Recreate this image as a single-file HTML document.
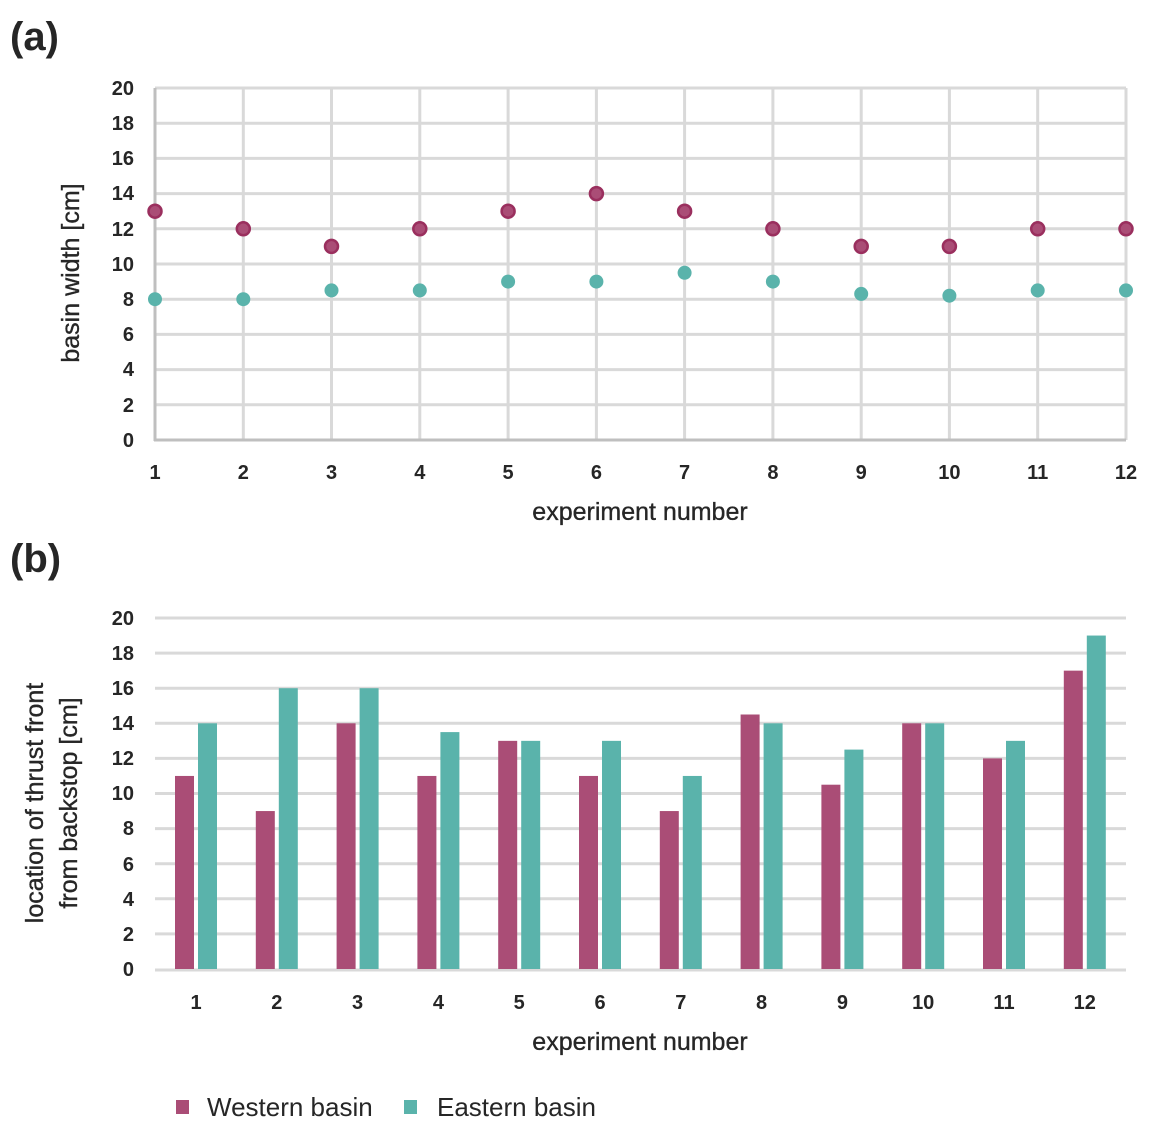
<!DOCTYPE html>
<html><head><meta charset="utf-8"><style>
html,body{margin:0;padding:0;background:#fff;}
svg text{font-family:"Liberation Sans",sans-serif;fill:#262626;}
.t{stroke:#262626;stroke-width:0.35;}
</style></head><body>
<svg width="1152" height="1128" viewBox="0 0 1152 1128" xmlns="http://www.w3.org/2000/svg">
<text x="10" y="50" font-size="40" font-weight="bold">(a)</text>
<text x="10" y="572" font-size="40" font-weight="bold">(b)</text>
<g stroke="#d9d9d9" stroke-width="3">
<line x1="155" y1="88" x2="1126" y2="88"/><line x1="155" y1="123.2" x2="1126" y2="123.2"/><line x1="155" y1="158.4" x2="1126" y2="158.4"/><line x1="155" y1="193.6" x2="1126" y2="193.6"/><line x1="155" y1="228.8" x2="1126" y2="228.8"/><line x1="155" y1="264" x2="1126" y2="264"/><line x1="155" y1="299.2" x2="1126" y2="299.2"/><line x1="155" y1="334.4" x2="1126" y2="334.4"/><line x1="155" y1="369.6" x2="1126" y2="369.6"/><line x1="155" y1="404.8" x2="1126" y2="404.8"/>
<line x1="243.3" y1="88" x2="243.3" y2="440"/><line x1="331.5" y1="88" x2="331.5" y2="440"/><line x1="419.8" y1="88" x2="419.8" y2="440"/><line x1="508.1" y1="88" x2="508.1" y2="440"/><line x1="596.4" y1="88" x2="596.4" y2="440"/><line x1="684.6" y1="88" x2="684.6" y2="440"/><line x1="772.9" y1="88" x2="772.9" y2="440"/><line x1="861.2" y1="88" x2="861.2" y2="440"/><line x1="949.4" y1="88" x2="949.4" y2="440"/><line x1="1037.7" y1="88" x2="1037.7" y2="440"/><line x1="1126" y1="88" x2="1126" y2="440"/>
</g>
<g stroke="#bfbfbf" stroke-width="3"><line x1="155" y1="88" x2="155" y2="441"/><line x1="154" y1="440" x2="1126" y2="440"/></g>
<g font-size="20" font-weight="bold" text-anchor="end">
<text x="134" y="95">20</text><text x="134" y="130">18</text><text x="134" y="165">16</text><text x="134" y="200">14</text><text x="134" y="236">12</text><text x="134" y="271">10</text><text x="134" y="306">8</text><text x="134" y="341">6</text><text x="134" y="376">4</text><text x="134" y="412">2</text><text x="134" y="447">0</text>
</g>
<g font-size="20" font-weight="bold" text-anchor="middle">
<text x="155" y="479">1</text><text x="243.3" y="479">2</text><text x="331.5" y="479">3</text><text x="419.8" y="479">4</text><text x="508.1" y="479">5</text><text x="596.4" y="479">6</text><text x="684.6" y="479">7</text><text x="772.9" y="479">8</text><text x="861.2" y="479">9</text><text x="949.4" y="479">10</text><text x="1037.7" y="479">11</text><text x="1126" y="479">12</text>
</g>
<text class="t" x="640" y="520" font-size="25" text-anchor="middle">experiment number</text>
<text class="t" transform="translate(79,273) rotate(-90)" font-size="25" text-anchor="middle">basin width [cm]</text>
<g fill="#5ab3ab">
<circle cx="155" cy="299.2" r="7"/><circle cx="243.3" cy="299.2" r="7"/><circle cx="331.5" cy="290.4" r="7"/><circle cx="419.8" cy="290.4" r="7"/><circle cx="508.1" cy="281.6" r="7"/><circle cx="596.4" cy="281.6" r="7"/><circle cx="684.6" cy="272.8" r="7"/><circle cx="772.9" cy="281.6" r="7"/><circle cx="861.2" cy="293.9" r="7"/><circle cx="949.4" cy="295.7" r="7"/><circle cx="1037.7" cy="290.4" r="7"/><circle cx="1126" cy="290.4" r="7"/>
</g>
<g fill="#aa4d76" stroke="#9a2f5e" stroke-width="2.5">
<circle cx="155" cy="211.2" r="6.5"/><circle cx="243.3" cy="228.8" r="6.5"/><circle cx="331.5" cy="246.4" r="6.5"/><circle cx="419.8" cy="228.8" r="6.5"/><circle cx="508.1" cy="211.2" r="6.5"/><circle cx="596.4" cy="193.6" r="6.5"/><circle cx="684.6" cy="211.2" r="6.5"/><circle cx="772.9" cy="228.8" r="6.5"/><circle cx="861.2" cy="246.4" r="6.5"/><circle cx="949.4" cy="246.4" r="6.5"/><circle cx="1037.7" cy="228.8" r="6.5"/><circle cx="1126" cy="228.8" r="6.5"/>
</g>
<g stroke="#d9d9d9" stroke-width="3">
<line x1="155" y1="618" x2="1126" y2="618"/><line x1="155" y1="653.1" x2="1126" y2="653.1"/><line x1="155" y1="688.2" x2="1126" y2="688.2"/><line x1="155" y1="723.3" x2="1126" y2="723.3"/><line x1="155" y1="758.4" x2="1126" y2="758.4"/><line x1="155" y1="793.5" x2="1126" y2="793.5"/><line x1="155" y1="828.6" x2="1126" y2="828.6"/><line x1="155" y1="863.7" x2="1126" y2="863.7"/><line x1="155" y1="898.8" x2="1126" y2="898.8"/><line x1="155" y1="933.9" x2="1126" y2="933.9"/><line x1="155" y1="970" x2="1126" y2="970"/>
</g>
<g font-size="20" font-weight="bold" text-anchor="end">
<text x="134" y="625">20</text><text x="134" y="660">18</text><text x="134" y="695">16</text><text x="134" y="730">14</text><text x="134" y="765">12</text><text x="134" y="800">10</text><text x="134" y="835">8</text><text x="134" y="871">6</text><text x="134" y="906">4</text><text x="134" y="941">2</text><text x="134" y="976">0</text>
</g>
<g fill="#aa4d76">
<rect x="175" y="775.95" width="19" height="193.05"/>
<rect x="255.8" y="811.05" width="19" height="157.95"/>
<rect x="336.6" y="723.3" width="19" height="245.7"/>
<rect x="417.4" y="775.95" width="19" height="193.05"/>
<rect x="498.2" y="740.85" width="19" height="228.15"/>
<rect x="579" y="775.95" width="19" height="193.05"/>
<rect x="659.8" y="811.05" width="19" height="157.95"/>
<rect x="740.6" y="714.5" width="19" height="254.5"/>
<rect x="821.4" y="784.7" width="19" height="184.3"/>
<rect x="902.2" y="723.3" width="19" height="245.7"/>
<rect x="983" y="758.4" width="19" height="210.6"/>
<rect x="1063.8" y="670.65" width="19" height="298.35"/>
</g>
<g fill="#5ab3ab">
<rect x="198" y="723.3" width="19" height="245.7"/>
<rect x="278.8" y="688.2" width="19" height="280.8"/>
<rect x="359.6" y="688.2" width="19" height="280.8"/>
<rect x="440.4" y="732.1" width="19" height="236.9"/>
<rect x="521.2" y="740.85" width="19" height="228.15"/>
<rect x="602" y="740.85" width="19" height="228.15"/>
<rect x="682.8" y="775.95" width="19" height="193.05"/>
<rect x="763.6" y="723.3" width="19" height="245.7"/>
<rect x="844.4" y="749.6" width="19" height="219.4"/>
<rect x="925.2" y="723.3" width="19" height="245.7"/>
<rect x="1006" y="740.85" width="19" height="228.15"/>
<rect x="1086.8" y="635.55" width="19" height="333.45"/>
</g>
<g font-size="20" font-weight="bold" text-anchor="middle">
<text x="196" y="1009">1</text><text x="276.8" y="1009">2</text><text x="357.6" y="1009">3</text><text x="438.4" y="1009">4</text><text x="519.2" y="1009">5</text><text x="600" y="1009">6</text><text x="680.8" y="1009">7</text><text x="761.6" y="1009">8</text><text x="842.4" y="1009">9</text><text x="923.2" y="1009">10</text><text x="1004" y="1009">11</text><text x="1084.8" y="1009">12</text>
</g>
<text class="t" x="640" y="1050" font-size="25" text-anchor="middle">experiment number</text>
<text class="t" transform="translate(43,803) rotate(-90)" font-size="25" text-anchor="middle">location of thrust front</text>
<text class="t" transform="translate(77,803) rotate(-90)" font-size="25" text-anchor="middle">from backstop [cm]</text>
<rect x="176" y="1100" width="13" height="14" fill="#aa4d76"/>
<text x="207" y="1116" font-size="26">Western basin</text>
<rect x="404" y="1100" width="13" height="14" fill="#5ab3ab"/>
<text x="437" y="1116" font-size="26">Eastern basin</text>
</svg>
</body></html>
